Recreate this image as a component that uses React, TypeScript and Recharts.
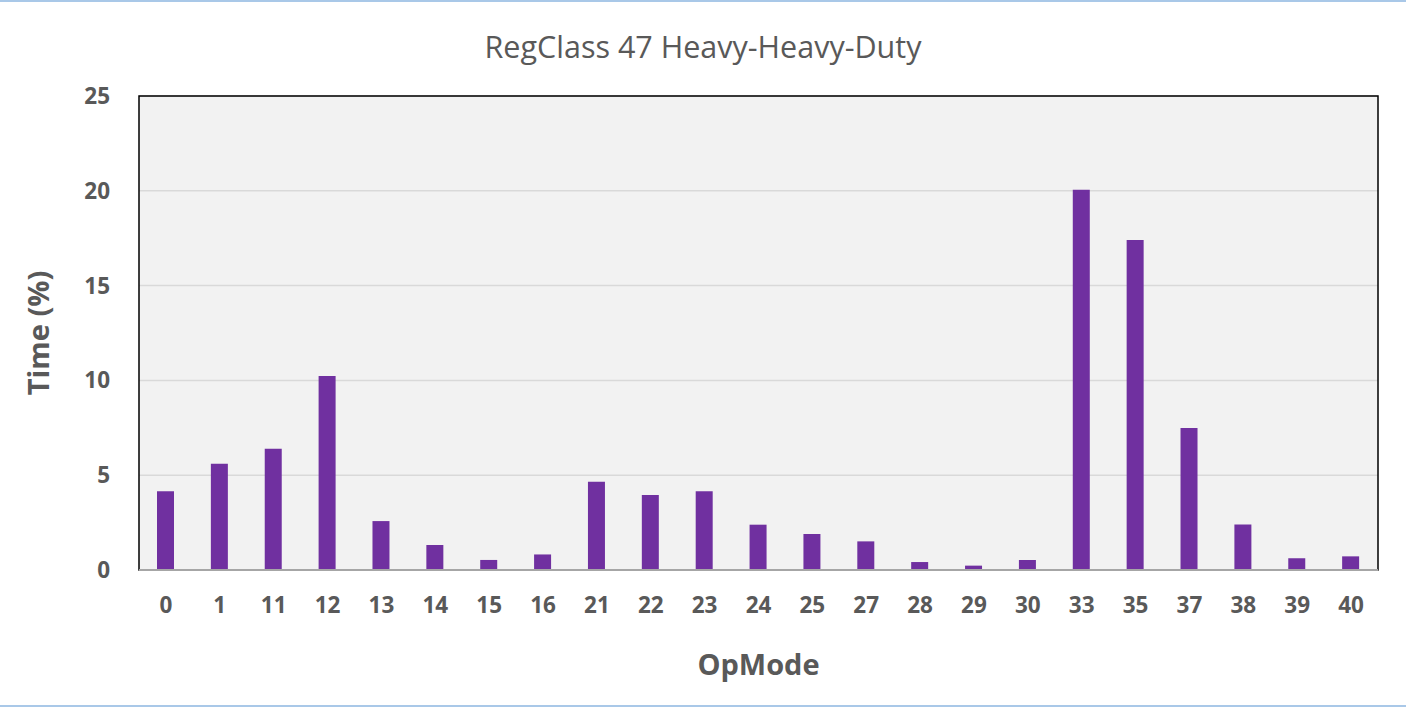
import React from "react";
import {
  BarChart,
  Bar,
  XAxis,
  YAxis,
  CartesianGrid,
  ReferenceArea,
} from "recharts";

const opModes = ["0", "1", "11", "12", "13", "14", "15", "16", "21", "22", "23", "24", "25", "27", "28", "29", "30", "33", "35", "37", "38", "39", "40"];
const timePct = [4.16, 5.6, 6.4, 10.23, 2.58, 1.32, 0.53, 0.82, 4.65, 3.95, 4.16, 2.39, 1.9, 1.51, 0.42, 0.23, 0.53, 20.05, 17.4, 7.49, 2.4, 0.62, 0.72];
const yTicks = [0, 5, 10, 15, 20, 25];

const data = opModes.map((m, i) => ({ opMode: m, time: timePct[i] }));

const font = "'Open Sans', 'Liberation Sans', sans-serif";
const grey = "#595959";

export default function App() {
  return (
    <div
      style={{
        position: "absolute",
        left: 0,
        top: 0,
        width: 1406,
        height: 707,
        background: "#fff",
        fontFamily: font,
        boxSizing: "border-box",
        borderTop: "2px solid #a9c8e8",
        borderBottom: "2px solid #a9c8e8",
      }}
    >
      <div
        style={{
          position: "absolute",
          top: 23,
          left: 0,
          width: 1406,
          textAlign: "center",
          fontSize: 30.5,
          color: grey,
          fontFamily: font,
        }}
      >
        RegClass 47 Heavy-Heavy-Duty
      </div>
      <div style={{ position: "absolute", left: 0, top: -2 }}>
        <BarChart
          width={1406}
          height={707}
          data={data}
          margin={{ top: 96, right: 28, bottom: 0, left: 0 }}
          barSize={17}
        >
          <CartesianGrid vertical={false} stroke="#d9d9d9" strokeWidth={1.5} fill="#f2f2f2" />
          <XAxis
            dataKey="opMode"
            height={137}
            axisLine={{ stroke: "#a6a6a6", strokeWidth: 2 }}
            tickLine={false}
            tickSize={0}
            tickMargin={27}
            interval={0}
            tick={{ fill: grey, fontSize: 22.5, fontWeight: 700, fontFamily: font }}
            label={{
              value: "OpMode",
              position: "insideBottom",
              offset: 32,
              style: { fill: grey, fontSize: 29, fontWeight: 700, fontFamily: font },
            }}
          />
          <YAxis
            width={139}
            domain={[0, 25]}
            ticks={yTicks}
            axisLine={false}
            tickLine={false}
            tickSize={0}
            tickMargin={29}
            tick={{ fill: grey, fontSize: 22.5, fontWeight: 700, fontFamily: font }}
            label={{
              value: "Time (%)",
              angle: -90,
              position: "insideLeft",
              offset: 39,
              style: { fill: grey, fontSize: 29, fontWeight: 700, fontFamily: font, textAnchor: "middle" },
            }}
          />
          <ReferenceArea y1={0} y2={25} fill="none" stroke="#000" strokeWidth={1.5} />
          <Bar dataKey="time" fill="#7030a0" isAnimationActive={false} />
        </BarChart>
      </div>
    </div>
  );
}
